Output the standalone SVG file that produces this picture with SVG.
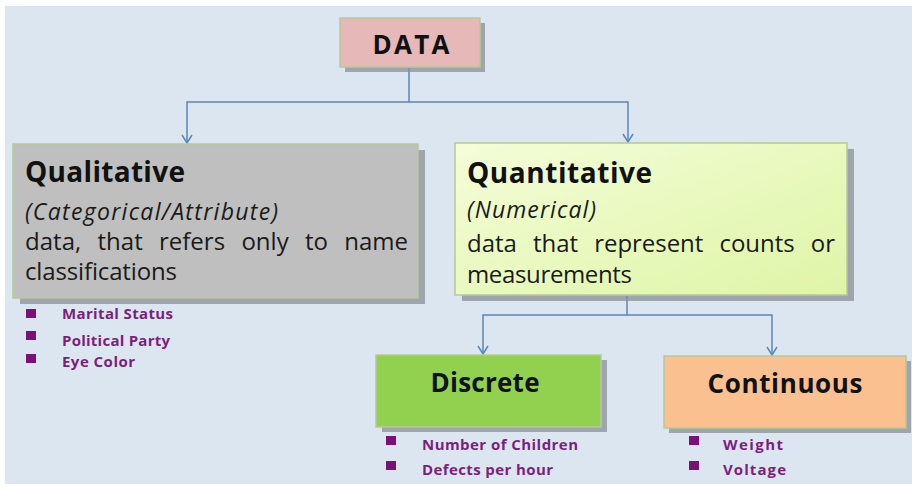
<svg xmlns="http://www.w3.org/2000/svg" width="912" height="485" viewBox="0 0 912 485">
<defs>
<linearGradient id="gq" x1="0" y1="0" x2="1" y2="1">
<stop offset="0" stop-color="#f4fdd8"/>
<stop offset="1" stop-color="#def5a6"/>
</linearGradient>
<marker id="arr" viewBox="0 0 10 12" refX="9" refY="6" markerWidth="10" markerHeight="12" markerUnits="userSpaceOnUse" orient="auto">
<path d="M1,1 L9,6 L1,11" fill="none" stroke="#5b87b8" stroke-width="1.5"/>
</marker>
</defs>
<style>
text{font-variant-ligatures:none}
.box{stroke:#b7c896;stroke-width:1.5}
.sh{fill:#8a8f96;opacity:0.75}
.conn{fill:none;stroke:#5b87b8;stroke-width:1.5}
.h{font-family:"Open Sans",Lato,sans-serif;font-weight:bold;fill:#111}
.b{font-family:"Open Sans",Lato,sans-serif;fill:#1a1a1a;font-size:24px}
.i{font-family:"Open Sans",Lato,sans-serif;font-style:italic;fill:#1a1a1a;font-size:23px}
.li{font-family:"Open Sans",Lato,sans-serif;font-weight:bold;fill:#7b1f7d;font-size:15px}
.sq{fill:#7b1077}
</style>
<rect x="0" y="0" width="912" height="485" fill="#ffffff"/>
<rect x="5" y="6" width="907" height="478" fill="#dce6f1"/>

<g id="connectors">
<path class="conn" d="M409,68 V102 H187 V143" marker-end="url(#arr)"/>
<path class="conn" d="M409,102 H628 V142" marker-end="url(#arr)"/>
<path class="conn" d="M627,296 V315 H483 V354" marker-end="url(#arr)"/>
<path class="conn" d="M627,315 H772 V355" marker-end="url(#arr)"/>
</g>

<g id="data">
<rect class="sh" x="345" y="23" width="140" height="49"/>
<rect class="box" x="340" y="18" width="140" height="49" fill="#e6b9b8"/>
<text class="h" x="411" y="54" font-size="26" text-anchor="middle" textLength="77">DATA</text>
</g>

<g id="qualitative">
<rect class="sh" x="20" y="150" width="405" height="154"/>
<rect class="box" x="13" y="144" width="405" height="154" fill="#bfbfbf"/>
<text class="h" x="25" y="182" font-size="28" textLength="160">Qualitative</text>
<text class="i" x="25" y="220" textLength="253">(Categorical/Attribute)</text>
<text class="b" x="25" y="250" word-spacing="10" textLength="383">data, that refers only to name</text>
<text class="b" x="25" y="280" textLength="152">classifications</text>
</g>

<g id="qual-items">
<rect class="sq" x="26" y="309" width="10" height="9"/>
<text class="li" x="62" y="319" textLength="111">Marital Status</text>
<rect class="sq" x="26" y="331" width="10" height="9"/>
<text class="li" x="62" y="346" textLength="108">Political Party</text>
<rect class="sq" x="26" y="354" width="10" height="9"/>
<text class="li" x="62" y="367" textLength="73">Eye Color</text>
</g>

<g id="quantitative">
<rect class="sh" x="462" y="149" width="392" height="152"/>
<rect class="box" x="455" y="143" width="392" height="152" fill="url(#gq)"/>
<text class="h" x="467" y="183" font-size="28" textLength="185">Quantitative</text>
<text class="i" x="467" y="218" textLength="129">(Numerical)</text>
<text class="b" x="467" y="252" word-spacing="10" textLength="368">data that represent counts or</text>
<text class="b" x="467" y="283" textLength="165">measurements</text>
</g>

<g id="discrete">
<rect class="sh" x="382" y="360" width="225" height="72"/>
<rect class="box" x="376" y="355" width="225" height="72" fill="#92d050"/>
<text class="h" x="485" y="392" font-size="26" text-anchor="middle" textLength="109">Discrete</text>
</g>

<g id="discrete-items">
<rect class="sq" x="386" y="436" width="10" height="9"/>
<text class="li" x="422" y="450" textLength="156">Number of Children</text>
<rect class="sq" x="386" y="461" width="10" height="9"/>
<text class="li" x="422" y="475" textLength="131">Defects per hour</text>
</g>

<g id="continuous">
<rect class="sh" x="669" y="361" width="242" height="72"/>
<rect class="box" x="664" y="356" width="242" height="72" fill="#fac090"/>
<text class="h" x="785" y="393" font-size="26" text-anchor="middle" textLength="155">Continuous</text>
</g>

<g id="continuous-items">
<rect class="sq" x="689" y="436" width="10" height="9"/>
<text class="li" x="723" y="450" textLength="60">Weight</text>
<rect class="sq" x="689" y="461" width="10" height="9"/>
<text class="li" x="723" y="475" textLength="63">Voltage</text>
</g>
</svg>
